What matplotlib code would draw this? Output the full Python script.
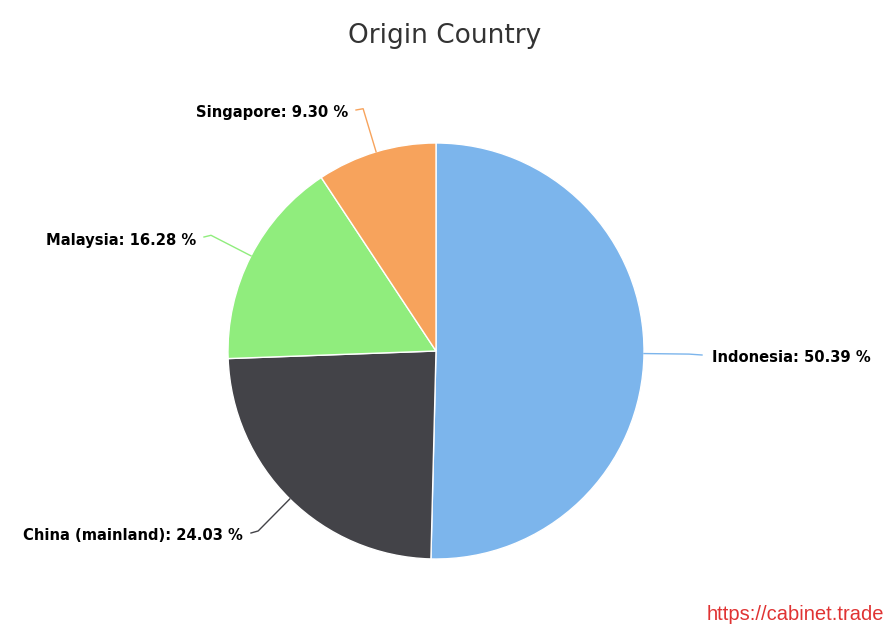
import numpy as np
import matplotlib

matplotlib.use('Agg')

from matplotlib import pyplot as plt

##### Data #####
countries = ['Indonesia', 'China (mainland)', 'Malaysia', 'Singapore']
shares = [50.39, 24.03, 16.28, 9.30]
colors = ['#7cb5ec', '#434348', '#90ed7d', '#f7a35c']

##### Layout (pixel coords, y down) #####
W, H = 885, 628
CX, CY, R = 436, 351, 208
# where each label sits: (x, y, horizontal alignment)
label_pos = [(712, 358, 'left'), (243, 536, 'right'), (196, 240, 'right'), (348, 113, 'right')]

fig = plt.figure(figsize=(W / 100, H / 100), dpi=100)
ax = fig.add_axes([0, 0, 1, 1])

wedges, _ = ax.pie(shares, colors=colors, startangle=90, counterclock=False,
                   center=(CX, H - CY), radius=R,
                   wedgeprops=dict(edgecolor='white', linewidth=1))

ax.set_xlim(0, W)
ax.set_ylim(0, H)
ax.set_aspect('equal')
ax.axis('off')

##### Labels with connectors #####
total = sum(shares)
start = 90.0
for name, val, col, (lx, ly, ha) in zip(countries, shares, colors, label_pos):
	span = 360.0 * val / total
	mid = np.deg2rad(start - span / 2)
	start -= span
	x0, y0 = CX + R * np.cos(mid), H - CY + R * np.sin(mid)
	x1, y1 = CX + (R + 45) * np.cos(mid), H - CY + (R + 45) * np.sin(mid)
	x2 = lx - 10 if ha == 'left' else lx + 8
	y2 = H - ly + 3
	ax.plot([x0, x1, x2], [y0, y1, y2], color=col, lw=1, solid_joinstyle='round')
	ax.text(lx, H - ly, '%s: %.2f %%' % (name, val), ha=ha, va='center',
	        fontsize=10.6, fontweight='bold', color='black')

fig.text(445 / W, 1 - 36 / H, 'Origin Country', ha='center', va='center',
         fontsize=19, color='#333333')
fig.text(884 / W, 1 - 615 / H, 'https://cabinet.trade', ha='right', va='center',
         fontsize=14.5, color='#e03333', family='Liberation Sans')

plt.savefig('out.png', dpi=100)
